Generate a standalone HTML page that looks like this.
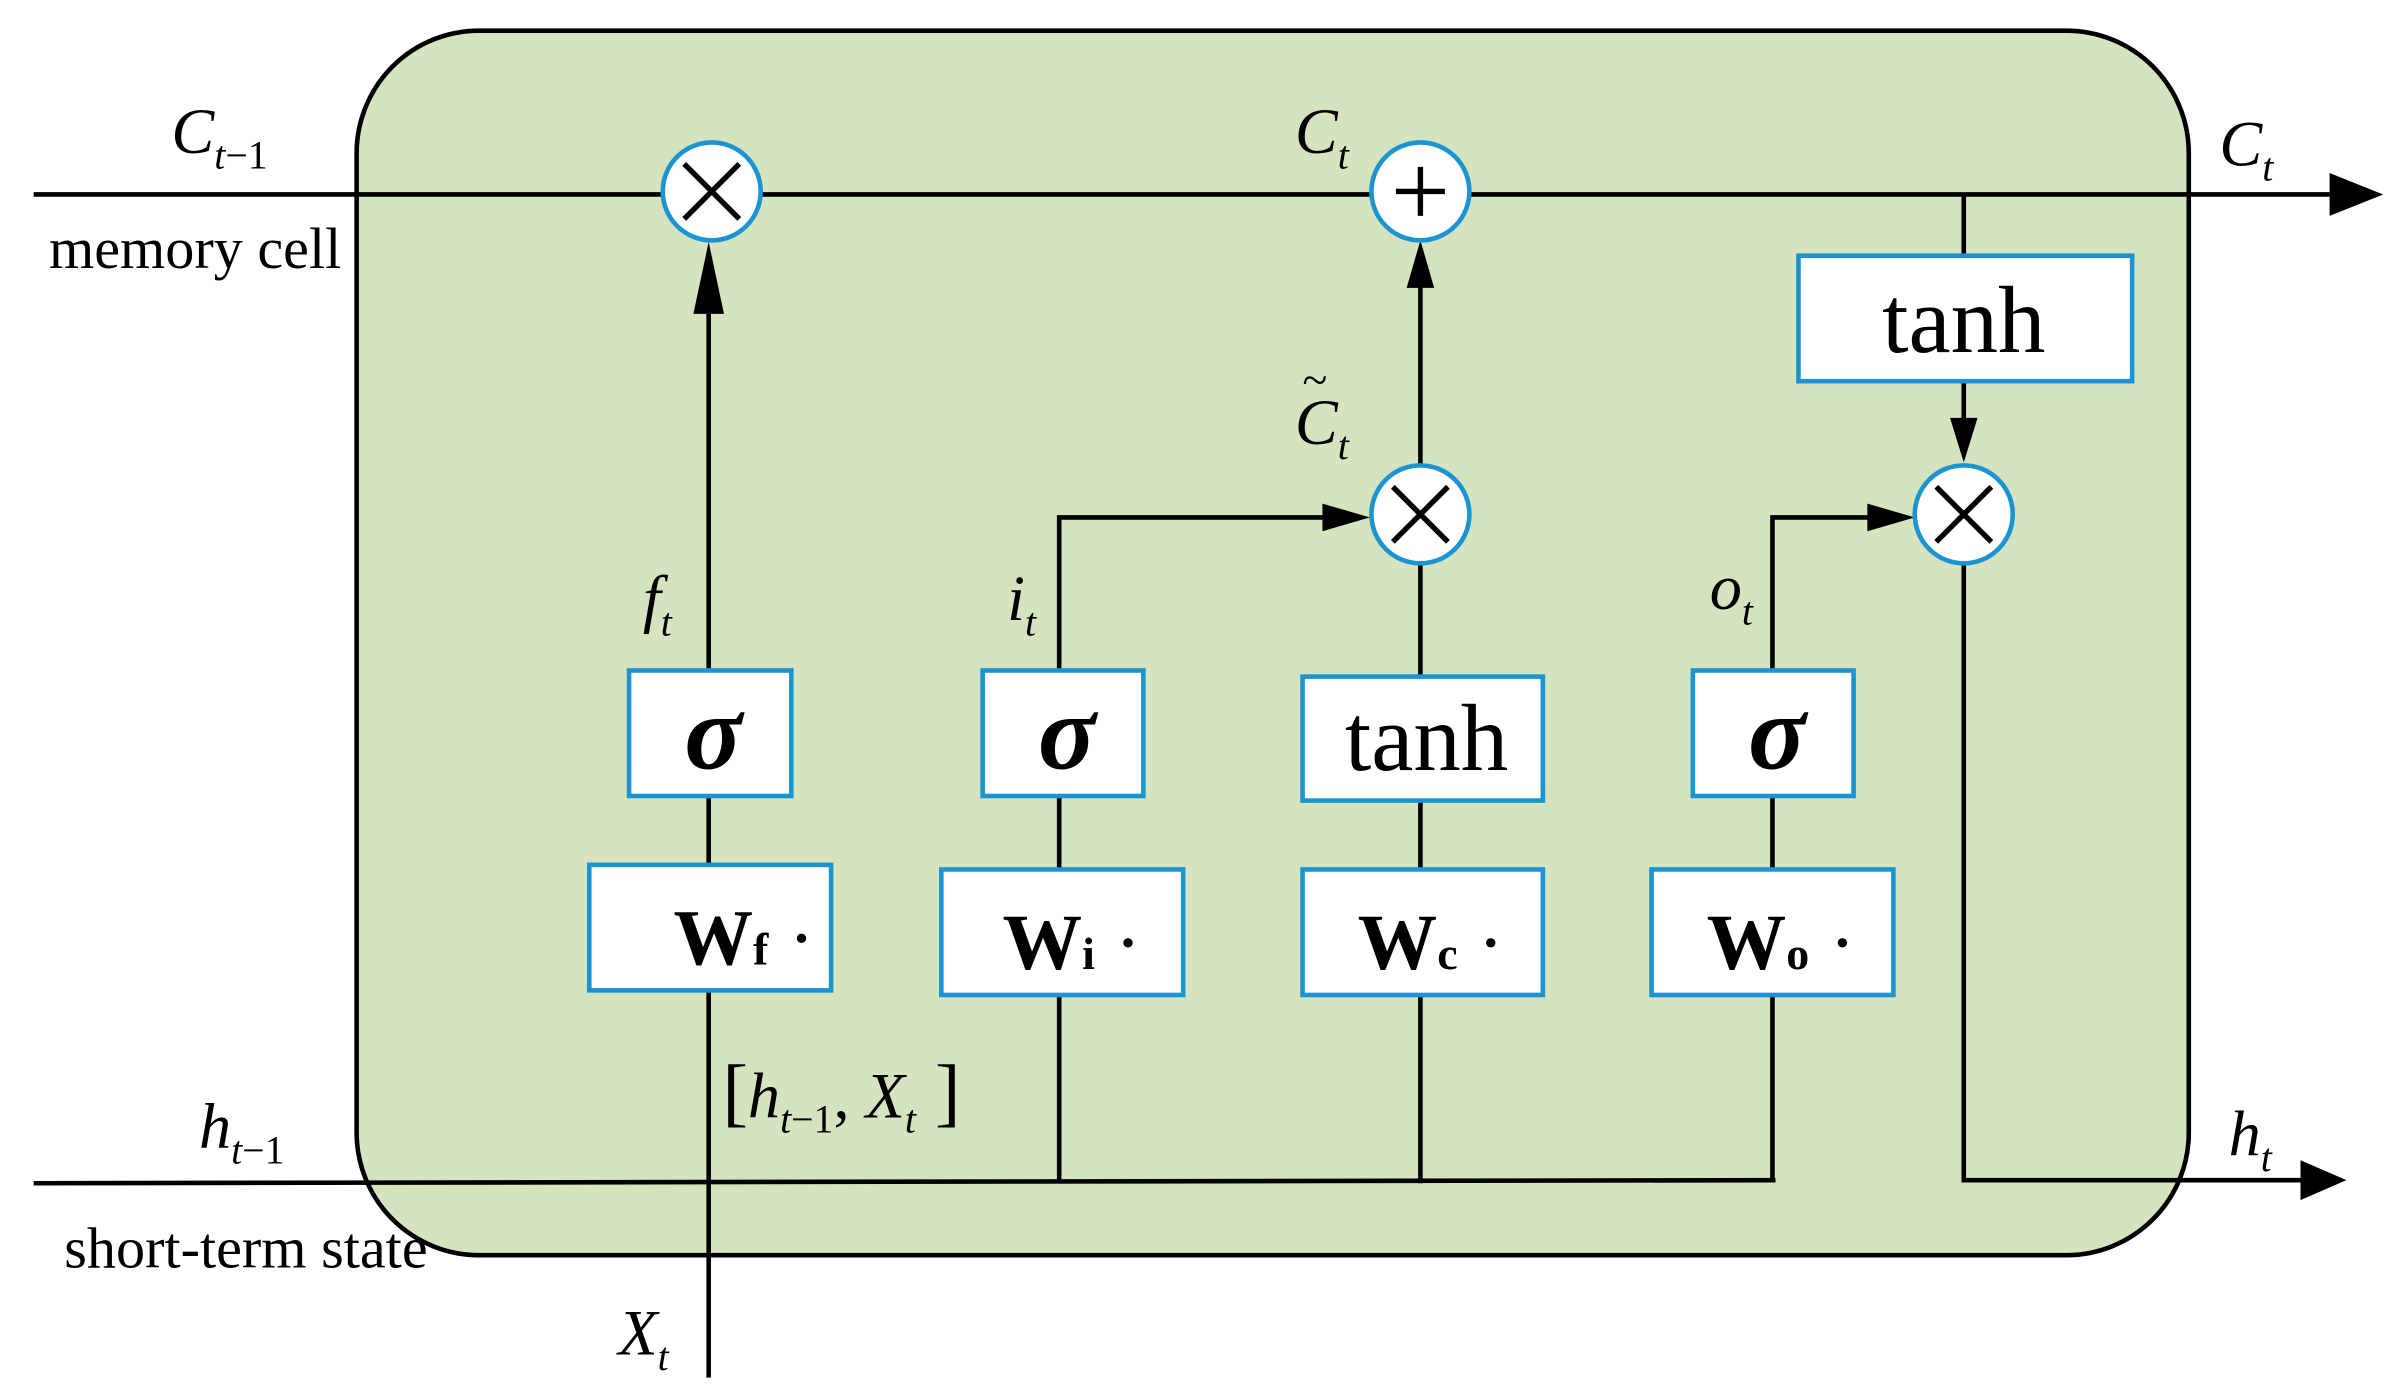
<!DOCTYPE html>
<html><head><meta charset="utf-8"><style>html,body{margin:0;padding:0;background:#fff}svg{display:block}</style></head><body>
<svg width="2400" height="1393" viewBox="0 0 1568 910" xmlns="http://www.w3.org/2000/svg" font-family="Liberation Serif, serif">
<rect x="233" y="20" width="1197" height="800" rx="80" fill="#d5e3bf" stroke="#000" stroke-width="3"/>
<g stroke="#000" stroke-width="3" fill="none">
<line x1="22" y1="127" x2="1522" y2="127"/>
<line x1="22" y1="773" x2="1160" y2="771"/>
<line x1="463" y1="900" x2="463" y2="647"/>
<line x1="463" y1="565" x2="463" y2="520"/>
<line x1="463" y1="438" x2="463" y2="200"/>
<polyline points="692,773 692,650"/><line x1="692" y1="568" x2="692" y2="520"/>
<polyline points="692,438 692,338 870,338"/>
<line x1="928" y1="773" x2="928" y2="650"/><line x1="928" y1="568" x2="928" y2="523"/><line x1="928" y1="442" x2="928" y2="368"/>
<line x1="928" y1="304" x2="928" y2="185"/>
<polyline points="1158,771 1158,650"/><line x1="1158" y1="568" x2="1158" y2="520"/>
<polyline points="1158,438 1158,338 1225,338"/>
<line x1="1283" y1="127" x2="1283" y2="167"/><line x1="1283" y1="249" x2="1283" y2="285"/>
<polyline points="1283,368 1283,771 1510,771"/>
</g>
<g fill="#000">
<path d="M463,158 L453,205 L473,205z"/>
<path d="M928,157 L919,188 L937,188z"/>
<path d="M895,338 L864,329 L864,347z"/>
<path d="M1251,338 L1220,329 L1220,347z"/>
<path d="M1283,302 L1274,273 L1292,273z"/>
<path d="M1557,127 L1522,113 L1522,141z"/>
<path d="M1533,771 L1503,758 L1503,784z"/>
</g>
<g fill="#fff" stroke="#1a94d2" stroke-width="3">
<circle cx="465" cy="125" r="32"/><circle cx="928" cy="125" r="32"/><circle cx="928" cy="336" r="32"/><circle cx="1283" cy="336" r="32"/>
<rect x="411" y="438" width="106" height="82"/><rect x="642" y="438" width="105" height="82"/><rect x="851" y="442" width="157" height="81"/><rect x="1106" y="438" width="105" height="82"/>
<rect x="385" y="565" width="158" height="82"/><rect x="615" y="568" width="158" height="82"/><rect x="851" y="568" width="157" height="82"/><rect x="1079" y="568" width="158" height="82"/>
<rect x="1175" y="167" width="218" height="82"/>
</g>
<g stroke="#000" stroke-width="3.5">
<path d="M447,107 L483,143 M483,107 L447,143"/>
<path d="M910,318 L946,354 M946,318 L910,354"/>
<path d="M1265,318 L1301,354 M1301,318 L1265,354"/>
<path d="M928,109 L928,141 M912,125 L944,125"/>
</g>
<g font-size="70" text-anchor="middle" font-style="italic" font-weight="bold">
<text x="466" y="502">σ</text><text x="697" y="502">σ</text><text x="1161" y="502">σ</text>
</g>
<g font-size="62" text-anchor="middle">
<text x="932" y="503">tanh</text><text x="1283" y="230">tanh</text>
</g>
<g font-size="52" font-weight="bold">
<text x="440" y="630">W<tspan font-size="30">f</tspan> <tspan font-weight="normal">·</tspan></text>
<text x="655" y="633">W<tspan font-size="30">i</tspan> <tspan font-weight="normal">·</tspan></text>
<text x="887" y="633">W<tspan font-size="30">c</tspan> <tspan font-weight="normal">·</tspan></text>
<text x="1115" y="633">W<tspan font-size="30">o</tspan> <tspan font-weight="normal">·</tspan></text>
</g>
<g font-style="italic" font-size="42">
<text x="112" y="100">C<tspan font-size="26" dy="10">t</tspan><tspan font-size="26" font-style="normal">−1</tspan></text>
<text x="846" y="100">C<tspan font-size="26" dy="10">t</tspan></text>
<text x="1450" y="108">C<tspan font-size="26" dy="10">t</tspan></text>
<text x="846" y="290">C<tspan font-size="26" dy="10">t</tspan></text>
<text x="851" y="258" font-style="normal" font-size="30">~</text>
<text x="420" y="405">f<tspan font-size="26" dy="10">t</tspan></text>
<text x="658" y="405">i<tspan font-size="26" dy="10">t</tspan></text>
<text x="1117" y="398">o<tspan font-size="26" dy="10">t</tspan></text>
<text x="130" y="750">h<tspan font-size="26" dy="10">t</tspan><tspan font-size="26" font-style="normal">−1</tspan></text>
<text x="1456" y="755">h<tspan font-size="26" dy="10">t</tspan></text>
<text x="404" y="885">X<tspan font-size="26" dy="10">t</tspan></text>
<text x="472" y="730"><tspan font-style="normal" font-size="50">[</tspan>h<tspan font-size="26" dy="10">t</tspan><tspan font-size="26" font-style="normal">−1</tspan><tspan dy="-10" font-style="normal">, </tspan>X<tspan font-size="26" dy="10">t</tspan><tspan font-style="normal" font-size="50" dy="-10"> ]</tspan></text>
</g>
<g font-size="38">
<text x="32" y="175">memory cell</text>
<text x="42" y="828">short-term state</text>
</g>
</svg>
</body></html>
